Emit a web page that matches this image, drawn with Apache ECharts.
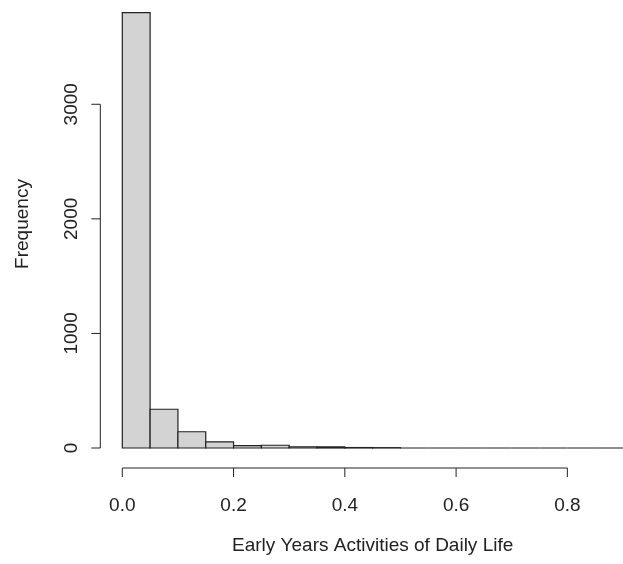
<!DOCTYPE html>
<html>
<head>
<meta charset="utf-8">
<script src="https://cdn.jsdelivr.net/npm/echarts@6/dist/echarts.min.js"></script>
<style>
  html, body { margin: 0; padding: 0; background: #fff; }
  #chart { width: 623px; height: 564px; }
</style>
</head>
<body>
<div id="chart"></div>
<script>
// ---- data ----
const binStarts = [0.00, 0.05, 0.10, 0.15, 0.20, 0.25, 0.30, 0.35, 0.40, 0.45, 0.50, 0.55, 0.60, 0.65, 0.70, 0.75, 0.80, 0.85];
const binEnds   = [0.05, 0.10, 0.15, 0.20, 0.25, 0.30, 0.35, 0.40, 0.45, 0.50, 0.55, 0.60, 0.65, 0.70, 0.75, 0.80, 0.85, 0.90];
const counts    = [3800, 338, 142, 54, 21, 24, 11, 10, 4, 3, 0, 0, 0, 0, 0, 0, 0, 0];
const xTicks = [0, 0.2, 0.4, 0.6, 0.8];
const yTicks = [0, 1000, 2000, 3000];
const xTitle = 'Early Years Activities of Daily Life';
const yTitle = 'Frequency';

// ---- chart ----
const FONT = '"Liberation Sans", Arial, sans-serif';
const FS = 19;
const INK = '#222';
const Y_OFFSET = 22;
const X_OFFSET = 20;
const TICK = 9;

const barData = binStarts.map((s, i) => [s, binEnds[i], counts[i]]);

const chart = echarts.init(document.getElementById('chart'), null, { renderer: 'canvas' });
chart.setOption({
  animation: false,
  backgroundColor: '#fff',
  grid: { left: 122.3, top: 0, width: 503, height: 448, containLabel: false },
  xAxis: {
    type: 'value', min: 0, max: 0.9, offset: X_OFFSET,
    axisLine: { show: false },
    splitLine: { show: false },
    axisTick: { show: false },
    axisLabel: { customValues: xTicks, margin: 28, color: INK, fontFamily: FONT, fontSize: FS,
      formatter: v => v.toFixed(1) },
    name: xTitle, nameLocation: 'middle', nameGap: 68,
    nameTextStyle: { color: INK, fontFamily: FONT, fontSize: FS }
  },
  yAxis: {
    type: 'value', min: 0, max: 3910, offset: Y_OFFSET,
    axisLine: { show: false },
    splitLine: { show: false },
    axisTick: { show: false },
    axisLabel: { customValues: yTicks, rotate: 90, margin: 19, color: INK, fontFamily: FONT, fontSize: FS,
      formatter: v => String(v) },
    name: yTitle, nameLocation: 'middle', nameGap: 68, nameRotate: 90,
    nameTextStyle: { color: INK, fontFamily: FONT, fontSize: FS }
  },
  series: [
    {
      type: 'custom',
      data: barData,
      encode: { x: [0, 1], y: 2 },
      clip: false,
      renderItem: function (params, api) {
        const p0 = api.coord([api.value(0), api.value(2)]);
        const p1 = api.coord([api.value(1), 0]);
        return {
          type: 'rect',
          shape: { x: p0[0], y: p0[1], width: p1[0] - p0[0], height: p1[1] - p0[1] },
          style: { fill: '#d3d3d3', stroke: INK, lineWidth: 1.2 }
        };
      }
    },
    {
      type: 'custom',
      data: [[0, 0]],
      clip: false,
      silent: true,
      renderItem: function (params, api) {
        const ls = { stroke: INK, lineWidth: 1 };
        const xa = api.coord([xTicks[0], 0]);
        const xb = api.coord([xTicks[xTicks.length - 1], 0]);
        const ya = api.coord([0, yTicks[0]]);
        const yb = api.coord([0, yTicks[yTicks.length - 1]]);
        const children = [
          { type: 'line', shape: { x1: xa[0], y1: xa[1] + X_OFFSET, x2: xb[0], y2: xb[1] + X_OFFSET }, style: ls },
          { type: 'line', shape: { x1: ya[0] - Y_OFFSET, y1: ya[1], x2: yb[0] - Y_OFFSET, y2: yb[1] }, style: ls }
        ];
        xTicks.forEach(t => {
          const p = api.coord([t, 0]);
          children.push({ type: 'line', shape: { x1: p[0], y1: p[1] + X_OFFSET, x2: p[0], y2: p[1] + X_OFFSET + TICK }, style: ls });
        });
        yTicks.forEach(t => {
          const p = api.coord([0, t]);
          children.push({ type: 'line', shape: { x1: p[0] - Y_OFFSET, y1: p[1], x2: p[0] - Y_OFFSET - TICK, y2: p[1] }, style: ls });
        });
        return { type: 'group', children: children };
      }
    }
  ]
});
</script>
</body>
</html>
